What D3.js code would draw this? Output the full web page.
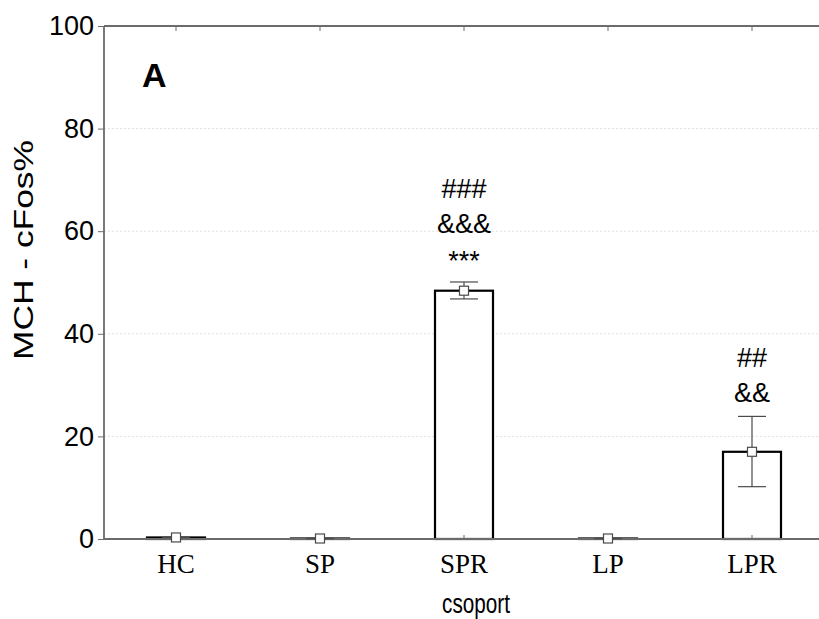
<!DOCTYPE html>
<html lang="en">
<head>
    <meta charset="UTF-8">
    <title>MCH - cFos%</title>
    <script src="https://d3js.org/d3.v7.min.js"></script>
    <style>
        body { margin: 0; background: #fff; }
        .y-tick text { font-family: Arial, "Liberation Sans", sans-serif; font-size: 27px; fill: #000; }
        .x-tick text { font-family: "Times New Roman", "Liberation Serif", serif; font-size: 27px; fill: #000; }
        .axis-label { font-family: Arial, "Liberation Sans", sans-serif; font-size: 28px; fill: #000; }
        .sig { font-family: Arial, "Liberation Sans", sans-serif; font-size: 27px; fill: #000; }
    </style>
</head>
<body>
<svg id="chart" width="819" height="619"></svg>
<script>
    // data
    const groups = ["HC", "SP", "SPR", "LP", "LPR"];
    const means = [0.3, 0.1, 48.4, 0.1, 17.0];
    const errLow = [0.3, 0.1, 46.8, 0.1, 10.2];
    const errHigh = [0.3, 0.1, 50.1, 0.1, 23.9];
    const yTicks = [0, 20, 40, 60, 80, 100];
    // significance markers per group, top line first
    const sigLabels = [[], [], ["###", "&&&", "***"], [], ["##", "&&"]];

    const svg = d3.select("#chart");
    const margin = { top: 26, left: 104 };
    const bandW = 144;

    const x = d3.scaleBand()
        .domain(groups)
        .range([margin.left, margin.left + bandW * groups.length]);

    const y = d3.scaleLinear()
        .domain([0, 100])
        .range([539, margin.top]);

    const axisColor = "#6b6b6b";
    const barW = 58;
    const cx = i => x(groups[i]) + x.bandwidth() / 2;

    // gridlines
    svg.append("g").selectAll("line")
        .data(yTicks.filter(d => d > 0 && d < 100))
        .enter().append("line")
        .attr("x1", margin.left).attr("x2", 819)
        .attr("y1", d => y(d)).attr("y2", d => y(d))
        .attr("stroke", "#e0e0e0")
        .attr("stroke-dasharray", "2,2");

    // bars
    svg.append("g").selectAll("rect")
        .data(means)
        .enter().append("rect")
        .attr("x", (d, i) => cx(i) - barW / 2)
        .attr("width", barW)
        .attr("y", d => y(d))
        .attr("height", d => y(0) - y(d))
        .attr("fill", "#fff")
        .attr("stroke", "#000")
        .attr("stroke-width", 2.2);

    // axes
    const yAxis = svg.append("g")
        .attr("class", "y-tick")
        .attr("transform", `translate(${margin.left},0)`)
        .call(d3.axisLeft(y).tickValues(yTicks).tickSize(6).tickPadding(4));
    yAxis.select(".domain").remove();
    yAxis.selectAll("line").attr("stroke", axisColor);

    const xAxis = svg.append("g")
        .attr("class", "x-tick")
        .attr("transform", `translate(0,${y(0)})`)
        .call(d3.axisBottom(x).tickSize(-4).tickPadding(15));
    xAxis.select(".domain").remove();
    xAxis.selectAll("line").attr("stroke", axisColor);

    const topAxis = svg.append("g")
        .attr("transform", `translate(0,${margin.top})`)
        .call(d3.axisBottom(x).tickSize(5).tickFormat(""));
    topAxis.select(".domain").remove();
    topAxis.selectAll("line").attr("stroke", axisColor);

    // frame lines
    svg.append("line")
        .attr("x1", margin.left).attr("x2", margin.left)
        .attr("y1", margin.top).attr("y2", y(0))
        .attr("stroke", axisColor).attr("stroke-width", 1.8);
    svg.append("line")
        .attr("x1", margin.left).attr("x2", 819)
        .attr("y1", y(0)).attr("y2", y(0))
        .attr("stroke", axisColor).attr("stroke-width", 1.8);
    svg.append("line")
        .attr("x1", margin.left).attr("x2", 819)
        .attr("y1", margin.top).attr("y2", margin.top)
        .attr("stroke", axisColor).attr("stroke-width", 1.8);

    // error bars
    const err = svg.append("g").attr("stroke", "#4a4a4a").attr("stroke-width", 1.2);
    groups.forEach((g, i) => {
        err.append("line")
            .attr("x1", cx(i)).attr("x2", cx(i))
            .attr("y1", y(errLow[i])).attr("y2", y(errHigh[i]));
        [errLow[i], errHigh[i]].forEach(v => {
            err.append("line")
                .attr("x1", cx(i) - 14).attr("x2", cx(i) + 14)
                .attr("y1", y(v)).attr("y2", y(v));
        });
    });

    // mean markers
    svg.append("g").selectAll("rect")
        .data(means)
        .enter().append("rect")
        .attr("x", (d, i) => cx(i) - 4.5)
        .attr("y", d => y(d) - 4.5)
        .attr("width", 9).attr("height", 9)
        .attr("fill", "#fff")
        .attr("stroke", "#4a4a4a")
        .attr("stroke-width", 1.2);

    // significance text, stacked upward from the error bar
    sigLabels.forEach((labels, i) => {
        const n = labels.length;
        labels.forEach((t, j) => {
            const fromBottom = n - 1 - j;
            svg.append("text")
                .attr("class", "sig")
                .attr("x", cx(i))
                .attr("y", y(errHigh[i]) - 14 - fromBottom * 35 + (t.startsWith("*") ? 2 : 0))
                .attr("text-anchor", "middle")
                .text(t);
        });
    });

    // panel letter
    svg.append("text")
        .attr("x", 142).attr("y", 87)
        .attr("font-family", "Arial, 'Liberation Sans', sans-serif")
        .attr("font-weight", "bold")
        .attr("font-size", 34)
        .text("A");

    // axis titles
    svg.append("text")
        .attr("class", "axis-label")
        .attr("text-anchor", "middle")
        .attr("transform", "translate(476,613) scale(0.74,1)")
        .text("csoport");

    svg.append("text")
        .attr("class", "axis-label")
        .attr("text-anchor", "middle")
        .attr("textLength", 220)
        .attr("lengthAdjust", "spacingAndGlyphs")
        .attr("transform", "translate(33,250) rotate(-90)")
        .text("MCH - cFos%");
</script>
</body>
</html>
